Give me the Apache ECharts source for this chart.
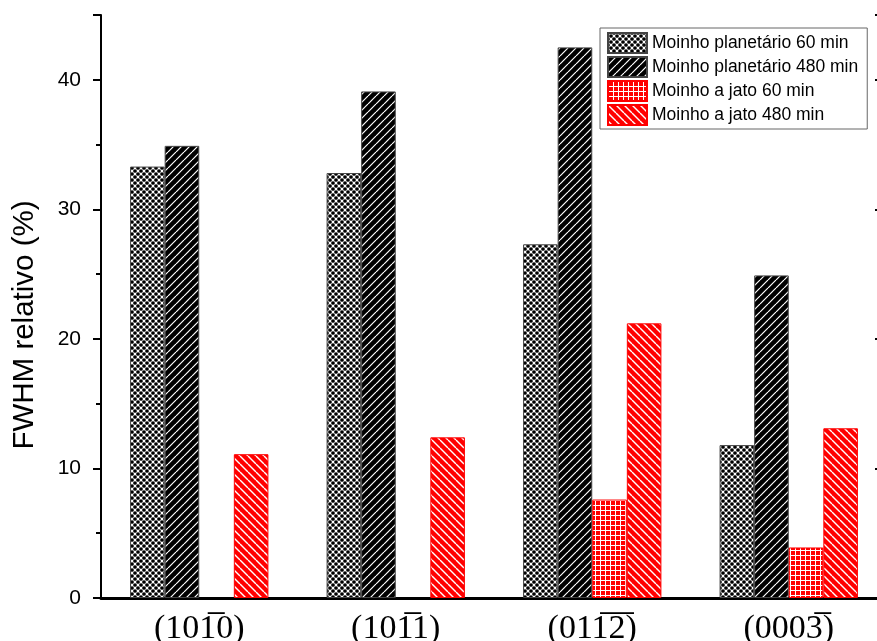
<!DOCTYPE html>
<html>
<head>
<meta charset="utf-8">
<script src="https://cdn.jsdelivr.net/npm/echarts@6/dist/echarts.min.js"></script>
<style>
  html, body { margin: 0; padding: 0; background: #fff; overflow: hidden; }
  /* the frame's right spine sits just past the visible edge, so the canvas is a bit wider */
  #chart { width: 900px; height: 660px; }
</style>
</head>
<body>
<div id="chart"></div>
<script>
// Crystal planes (Miller-Bravais indices, combining overline for negative index)
const planes = ['(101\u03050)', '(101\u03051)', '(011\u03052\u0305)', '(0003\u0305)'];

// Relative FWHM (%) per milling condition (null = no measurement)
const planetario60 = [33.3, 32.8, 27.3, 11.8];
const planetario480 = [34.9, 39.1, 42.5, 24.9];
const jato60 = [null, null, 7.6, 3.9];
const jato480 = [11.1, 12.4, 21.2, 13.1];

const seriesNames = [
  'Moinho planetário 60 min',
  'Moinho planetário 480 min',
  'Moinho a jato 60 min',
  'Moinho a jato 480 min'
];

const yTicks = [0, 10, 20, 30, 40];

// ---- hatch fills ----
function tile(w, h, draw) {
  const c = document.createElement('canvas');
  c.width = w; c.height = h;
  const g = c.getContext('2d');
  draw(g, w, h);
  return { image: c, repeat: 'repeat' };
}

const crossFill = tile(6, 6, (g, w, h) => {
  g.fillStyle = '#fff'; g.fillRect(0, 0, w, h);
  g.fillStyle = '#000';
  const dot = (x, y) => { g.beginPath(); g.arc(x, y, 1.85, 0, Math.PI * 2); g.fill(); };
  dot(0, 0); dot(6, 0); dot(0, 6); dot(6, 6); dot(3, 3);
});

const slashBlack = tile(8, 8, (g, w, h) => {
  g.fillStyle = '#000'; g.fillRect(0, 0, w, h);
  g.strokeStyle = '#fff'; g.lineWidth = 1.2;
  for (let k = -1; k <= 1; k++) {
    g.beginPath(); g.moveTo(k * w, h); g.lineTo(k * w + w, 0); g.stroke();
  }
});

const gridRed = tile(5, 5, (g, w, h) => {
  g.fillStyle = '#ff0000'; g.fillRect(0, 0, w, h);
  g.fillStyle = '#fff';
  g.fillRect(0, 0, 1, h);
  g.fillRect(0, 0, w, 1);
});

const backRed = tile(8, 8, (g, w, h) => {
  g.fillStyle = '#ff0000'; g.fillRect(0, 0, w, h);
  g.strokeStyle = '#fff'; g.lineWidth = 1.4;
  for (let k = -1; k <= 1; k++) {
    g.beginPath(); g.moveTo(k * w, 0); g.lineTo(k * w + w, h); g.stroke();
  }
});

const fills = [crossFill, slashBlack, gridRed, backRed];
const borders = ['#444', '#444', '#ff0000', '#ff0000'];
const values = [planetario60, planetario480, jato60, jato480];

const chart = echarts.init(document.getElementById('chart'), null, { renderer: 'canvas' });

const option = {
  animation: false,
  backgroundColor: '#fff',
  grid: { left: 101, width: 786, top: 15, height: 583 },
  legend: {
    orient: 'vertical',
    left: 600,
    top: 28,
    itemWidth: 39,
    itemHeight: 20,
    itemGap: 2,
    padding: [4, 9, 3, 7],
    borderColor: '#666',
    borderWidth: 1,
    icon: 'rect',
    textStyle: { fontFamily: 'Liberation Sans, Arial, sans-serif', fontSize: 17.5, color: '#000' },
    data: seriesNames
  },
  xAxis: [
    {
      type: 'category',
      data: planes,
      boundaryGap: true,
      axisLine: { lineStyle: { color: '#000', width: 3 } },
      axisTick: { show: false },
      axisLabel: {
        color: '#000',
        fontFamily: 'Liberation Serif, DejaVu Serif, serif',
        fontSize: 34,
        margin: 14
      }
    },
    {
      type: 'category',
      position: 'top',
      data: planes,
      axisLine: { lineStyle: { color: '#000', width: 2 } },
      axisTick: { show: false },
      axisLabel: { show: false }
    }
  ],
  yAxis: [
    {
      type: 'value',
      min: 0,
      max: 45,
      interval: 10,
      axisLine: { show: true, lineStyle: { color: '#000', width: 2 } },
      axisTick: { show: true, length: 8, lineStyle: { color: '#000', width: 2 } },
      minorTick: { show: true, splitNumber: 2, length: 5, lineStyle: { color: '#000', width: 2 } },
      splitLine: { show: false },
      axisLabel: {
        color: '#000',
        fontFamily: 'Liberation Sans, Arial, sans-serif',
        fontSize: 21,
        margin: 20,
        formatter: v => (yTicks.indexOf(v) >= 0 ? String(v) : '')
      }
    },
    {
      type: 'value',
      position: 'right',
      min: 0,
      max: 45,
      interval: 10,
      axisLine: { show: true, lineStyle: { color: '#000', width: 2 } },
      axisTick: { show: true, inside: true, length: 12, lineStyle: { color: '#000', width: 2 } },
      splitLine: { show: false },
      axisLabel: { show: false }
    }
  ],
  series: seriesNames.map((name, i) => ({
    name,
    type: 'bar',
    data: values[i],
    barGap: '0%',
    barCategoryGap: '29.6%',
    itemStyle: { color: fills[i], borderColor: borders[i], borderWidth: 1 },
    emphasis: { disabled: true }
  })),
  graphic: [
    {
      type: 'text',
      x: 25,
      y: 325,
      rotation: Math.PI / 2,
      style: {
        text: 'FWHM relativo (%)',
        fontFamily: 'Liberation Sans, Arial, sans-serif',
        fontSize: 29.5,
        fill: '#000',
        align: 'center',
        verticalAlign: 'middle'
      }
    }
  ]
};

chart.setOption(option);
</script>
</body>
</html>
